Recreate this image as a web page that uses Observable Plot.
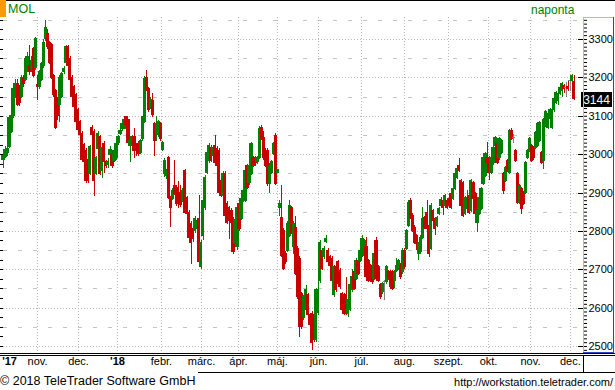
<!DOCTYPE html>
<html><head><meta charset="utf-8">
<script src="https://cdn.jsdelivr.net/npm/d3@7"></script>
<script src="https://cdn.jsdelivr.net/npm/@observablehq/plot@0.6"></script>
<style>
html,body{margin:0;padding:0;background:#fff;}
#wrap{position:relative;width:615px;height:390px;overflow:hidden;font-family:"Liberation Sans",Arial,sans-serif;background:#fff;}
#wrap svg{position:absolute;left:0;top:0;}
.abs{position:absolute;white-space:nowrap;}
</style></head><body>
<div id="wrap"></div>
<script>
// Daily MOL candles, Oct 2017 - Dec 2018
const open = [2985,2995,3005,3020,3060,3100,3150,3185,3170,3150,3200,3195,3220,3230,3220,3275,3225,3182,3175,3195,3230,3300,3315,3290,3285,3205,3165,3140,3130,3150,3215,3240,3280,3250,3200,3175,3155,3115,3085,3055,3025,3010,2985,2950,3070,3060,2950,3015,
3045,2958,3028,2980,2972,3000,3000,2984,2990,3030,3055,3068,3068,3097,3089,3023,3030,3045,3023,3028,3005,3041,3085,3200,3170,3122,3141,3080,3055,3050,3080,3013,2950,2945,2990,2888,2885,2919,2914,2901,2898,2880,2958,2888,2849,2820,2807,2802,2807,
2833,2706,2789,2862,2953,2984,3018,2997,3023,3015,3010,2932,2893,2950,2872,2862,2854,2828,2770,2758,2872,2833,2880,2880,2971,2927,2950,2992,2990,2980,2992,3070,3044,3010,3010,2924,2953,3002,3049,2953,2862,2836,2802,2742,2750,2789,2862,2758,2810,
2755,2729,2638,2573,2594,2633,2581,2586,2581,2516,2588,2672,2750,2732,2773,2750,2732,2729,2633,2706,2719,2698,2638,2633,2633,2586,2594,2646,2693,2677,2724,2724,2737,2755,2758,2724,2711,2680,2677,2776,2706,2659,2641,2667,2667,2693,2693,2693,2672,2698,2703,
2711,2693,2750,2755,2815,2880,2841,2810,2789,2742,2745,2784,2836,2849,2815,2755,2854,2833,2815,2846,2867,2880,2867,2880,2885,2898,2885,2911,2940,2971,2932,2927,2846,2859,2893,2854,2927,2898,2823,2846,2859,2924,2945,2992,2990,2953,2977,3023,3028,2990,
3005,2950,2932,2984,2953,3062,3044,3010,2950,2875,2911,2901,2901,2992,3010,3023,3018,3018,3023,3036,3005,2984,3076,3070,3094,3070,3115,3135,3141,3159,3167,3180,3174,3177,3193,3193,3190];
const high = [3010,3020,3025,3100,3105,3180,3195,3195,3180,3205,3205,3255,3265,3285,3255,3280,3305,3205,3220,3240,3300,3350,3325,3295,3290,3210,3170,3150,3205,3215,3230,3285,3285,3255,3205,3180,3160,3120,3090,3060,3030,3015,2990,3025,3075,3065,2995,3060,
3050,3025,3035,2985,2990,3020,3005,3015,3032,3050,3080,3085,3095,3100,3092,3040,3050,3068,3030,3035,3040,3100,3203,3219,3175,3150,3160,3085,3100,3090,3085,3035,2990,2960,2995,2892,2912,2984,2920,2930,2920,2912,2962,2892,2855,2825,2812,2838,2832,
2893,2776,2885,2945,3010,3030,3025,3022,3050,3020,3015,2940,2955,2955,2878,2866,2860,2835,2835,2865,2876,2890,2912,2962,2975,2976,3032,2996,2995,2996,3072,3075,3060,3015,3015,2976,2985,3032,3055,2962,2880,2919,2808,2748,2825,2880,2866,2825,2840,
2760,2735,2642,2632,2660,2637,2585,2590,2585,2650,2675,2776,2755,2760,2790,2755,2736,2734,2710,2710,2725,2703,2642,2637,2680,2625,2663,2700,2700,2730,2735,2755,2790,2780,2785,2728,2715,2685,2746,2785,2710,2664,2668,2672,2710,2697,2697,2697,2697,2730,2728,
2716,2755,2755,2806,2880,2885,2846,2815,2793,2772,2788,2862,2840,2880,2820,2872,2858,2837,2840,2863,2887,2884,2897,2884,2889,2902,2915,2954,2967,2990,2936,2931,2892,2906,2897,2936,2931,2902,2858,2892,2915,2996,3006,3031,2994,2994,3022,3048,3032,3045,
3040,2954,2970,2988,3066,3068,3052,3014,2954,2923,2915,2905,2981,3014,3045,3027,3022,3061,3084,3087,3009,3093,3114,3111,3119,3119,3150,3165,3172,3180,3189,3184,3188,3190,3198,3210,3205];
const low = [2965,2990,2995,3015,3055,3095,3145,3125,3125,3145,3175,3190,3215,3205,3215,3200,3220,3140,3170,3190,3225,3295,3275,3235,3195,3150,3065,3090,3085,3145,3210,3235,3225,3190,3145,3120,3080,3060,3045,2980,2975,2925,2925,2945,3045,2890,2945,3010,
2945,2937,2950,2965,2965,2995,2965,2980,2985,3025,3050,3060,3065,3072,3025,2980,3025,2990,2995,2995,3000,3035,3080,3165,3110,3118,3098,2995,3035,3045,3035,3008,2940,2935,2883,2810,2880,2893,2865,2860,2862,2875,2845,2840,2778,2715,2770,2795,2800,
2715,2700,2775,2855,2948,2978,2980,2990,2972,2965,2895,2888,2870,2835,2818,2780,2818,2740,2765,2750,2800,2828,2875,2875,2910,2920,2945,2966,2970,2975,2988,3036,2985,2966,2918,2900,2948,2997,2920,2950,2840,2732,2698,2714,2745,2785,2792,2740,2685,
2622,2523,2545,2568,2588,2576,2550,2490,2510,2510,2582,2665,2698,2728,2768,2714,2690,2667,2628,2640,2660,2649,2589,2581,2581,2575,2590,2640,2646,2672,2685,2718,2732,2750,2675,2667,2675,2662,2672,2672,2667,2623,2636,2620,2662,2672,2649,2646,2650,2693,2698,
2675,2688,2700,2750,2810,2830,2797,2766,2750,2724,2740,2780,2805,2802,2732,2750,2823,2789,2810,2841,2862,2841,2862,2857,2862,2857,2880,2906,2935,2953,2862,2836,2841,2854,2844,2849,2880,2841,2797,2841,2854,2919,2940,2974,2932,2948,2972,3018,2974,2985,
3000,2895,2927,2953,2948,3036,3030,2979,2870,2870,2845,2867,2896,2987,3005,2979,2985,3013,3018,3031,2974,2960,3071,3065,3089,3065,3110,3130,3128,3154,3150,3160,3150,3165,3165,3188,3140];
const close = [3000,3012,3015,3095,3100,3170,3185,3130,3135,3200,3185,3250,3255,3215,3245,3205,3300,3175,3215,3235,3290,3330,3280,3240,3200,3155,3070,3100,3200,3210,3222,3280,3230,3195,3150,3125,3085,3065,3050,2985,2980,2932,2932,3020,3050,2930,2990,3055,
2950,3018,2980,2971,2982,3012,2971,3010,3028,3045,3062,3080,3089,3076,3030,3036,3045,3010,3010,3002,3036,3097,3198,3172,3115,3143,3102,3036,3080,3085,3041,3031,2984,2953,2888,2860,2906,2898,2872,2872,2870,2906,2849,2846,2784,2771,2781,2833,2828,
2719,2771,2880,2940,3005,3023,2984,3018,2977,2971,2901,2893,2950,2841,2823,2828,2823,2745,2830,2862,2807,2885,2906,2958,2914,2971,3028,2971,2977,2992,3068,3041,2990,2971,2924,2971,2980,3028,2924,2960,2872,2737,2703,2719,2820,2867,2797,2820,2690,
2628,2550,2550,2628,2646,2581,2555,2508,2516,2646,2646,2771,2703,2755,2779,2719,2711,2672,2706,2646,2664,2654,2594,2586,2586,2620,2659,2680,2651,2724,2690,2750,2779,2776,2680,2672,2680,2667,2742,2677,2672,2628,2664,2667,2706,2677,2654,2651,2693,2711,2724,
2680,2750,2706,2802,2875,2836,2802,2771,2768,2768,2784,2833,2810,2807,2742,2867,2828,2807,2836,2859,2883,2862,2893,2862,2867,2862,2911,2950,2963,2958,2867,2841,2888,2888,2849,2932,2885,2846,2854,2888,2911,2992,3002,2979,2953,2990,3018,3044,2979,3041,
3036,2906,2966,2958,3062,3041,3044,2984,2875,2919,2859,2872,2977,3010,3041,2984,2990,3057,3080,3083,2979,3089,3110,3107,3115,3115,3146,3161,3159,3174,3185,3172,3174,3172,3193,3206,3144];

// axis: candle-index positions of the month gridlines and their labels
const monthTickPos = [16.9, 37.2, 56.5, 78.3, 98.2, 116.5, 135.8, 156.2, 177.5, 198.8, 220.6, 240.5, 261.3, 281.1];
const xLabelPos = [3, ...monthTickPos];
const xLabels = ["'17", "nov.", "dec.", "'18", "febr.", "márc.", "ápr.", "máj.", "jún.", "júl.", "aug.", "szept.", "okt.", "nov.", "dec."];
const priceTicks = [2500, 2600, 2700, 2800, 2900, 3000, 3100, 3200, 3300];
const halfTicks = [2550, 2650, 2750, 2850, 2950, 3050, 3150, 3250, 3350];
const leftTicks = d3.range(2500, 3351, 25);
const rightMinor = d3.range(2490, 3351, 10);
const lastPrice = 3144;

const candles = close.map((c, i) => ({i, o: open[i], h: high[i], l: low[i], c}));
const col = d => d.c > d.o ? "#008000" : d.c < d.o ? "#c80000" : "#808080";

const chart = Plot.plot({
  width: 615, height: 390,
  marginTop: 17, marginBottom: 37, marginLeft: 0, marginRight: 32,
  x: {domain: [-1.49, 287.6], axis: null},
  y: {domain: [2481.8, 3357.3], axis: null},
  color: {type: "identity"},
  style: {fontFamily: "'Liberation Sans', Arial, sans-serif", background: "transparent", overflow: "visible"},
  marks: [
    Plot.ruleY(halfTicks, {stroke: "#c4c4c4", strokeDasharray: "4,11", strokeDashoffset: -3}),
    Plot.ruleY(priceTicks, {stroke: "#b8b8b8", strokeDasharray: "1,2"}),
    Plot.ruleX(monthTickPos, {stroke: "#b8b8b8", strokeDasharray: "1,2"}),
    Plot.ruleX(candles, {x: "i", y1: "l", y2: "h", stroke: col}),
    Plot.rect(candles, {x1: d => d.i - 0.8, x2: d => d.i + 0.8, y1: "o", y2: "c", fill: col, insetTop: -0.5, insetBottom: -0.5}),
    Plot.tickY(leftTicks, {insetRight: 580, stroke: "#000"}),
    Plot.tickY(priceTicks, {insetLeft: 578, stroke: "#000"}),
    Plot.axisY(rightMinor, {anchor: "right", tickSize: 3, tickFormat: () => "", color: "#000"}),
    Plot.axisY(priceTicks, {anchor: "right", tickSize: 0, tickPadding: 5, tickFormat: d => String(d), fontSize: 11, color: "#000"}),
    Plot.text(xLabelPos, {x: d => d, text: (d, i) => xLabels[i], frameAnchor: "bottom", dy: 11, fontSize: 11, fill: "#000"})
  ]
});

const wrap = document.getElementById("wrap");
wrap.appendChild(chart);
const svg = d3.select(chart);
svg.selectAll("rect, line").attr("shape-rendering", "crispEdges");
svg.selectAll("text").filter(function () { return /^'/.test(this.textContent); }).attr("font-weight", "bold");

// last price marker on the right axis
const yLast = chart.scale("y").apply(lastPrice);
svg.append("rect").attr("x", 581).attr("y", Math.round(yLast) - 7).attr("width", 31).attr("height", 15).attr("fill", "#000");
svg.append("text").attr("x", 596.5).attr("y", yLast + 0.5).attr("dy", "0.36em").attr("text-anchor", "middle")
  .attr("fill", "#fff").attr("font-size", 12).attr("font-family", "'Liberation Sans', Arial, sans-serif").text(String(lastPrice));

function box(l, t, w, h, bg) {
  const d = document.createElement("div");
  d.className = "abs";
  Object.assign(d.style, {left: l + "px", top: t + "px", width: w + "px", height: h + "px", background: bg});
  wrap.appendChild(d);
}
function label(txt, css) {
  const d = document.createElement("div");
  d.className = "abs";
  d.textContent = txt;
  Object.assign(d.style, css);
  wrap.appendChild(d);
}
box(0, 0, 615, 1, "#000");
box(0, 0, 6, 17, "#fb9a06");
label("MOL", {left: "8px", top: "2px", fontSize: "12.5px", color: "#008000", lineHeight: "14px"});
label("naponta", {left: "531px", top: "3px", fontSize: "12px", color: "#008000", lineHeight: "14px"});
// right axis panel frame
box(583, 17, 1, 336, "#e2b84a");
box(583, 17, 31, 1, "#e2b84a");
box(613, 17, 1, 336, "#2a45c0");
box(583, 352, 31, 1, "#2a45c0");
// bottom rules
box(0, 353, 615, 1, "#000");
box(0, 355, 615, 1, "#000");
box(583, 355, 1, 18, "#000");
box(198, 372, 417, 1, "#000");
label("© 2018 TeleTrader Software GmbH", {left: "0px", top: "374px", fontSize: "12.5px", color: "#000", lineHeight: "14px"});
label("http://workstation.teletrader.com/", {right: "2px", top: "375px", fontSize: "11px", color: "#000", lineHeight: "14px"});
</script>
</body></html>
